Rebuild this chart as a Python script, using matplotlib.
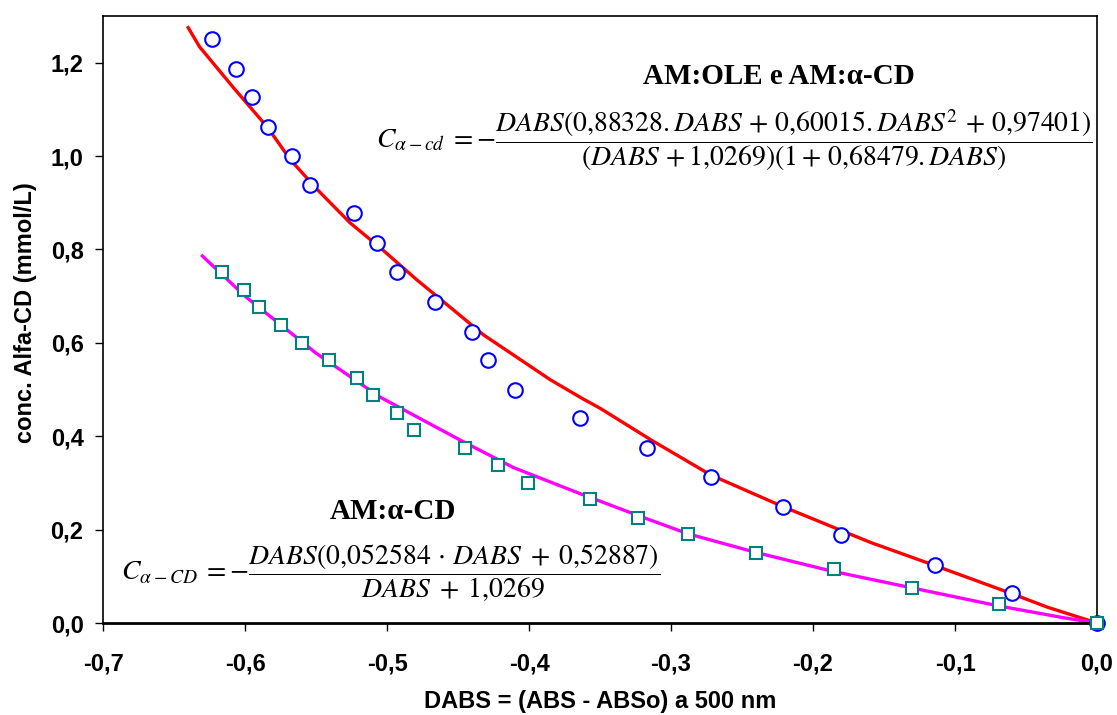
import numpy as np
import matplotlib
matplotlib.use('Agg')
import matplotlib.pyplot as plt
from matplotlib.ticker import FuncFormatter

plt.rcParams['font.family'] = 'Liberation Sans'
plt.rcParams['mathtext.fontset'] = 'stix'

# AM:OLE e AM:alfa-CD (circles) and fitted curve (red)
dabs_ole = [-0.623, -0.606, -0.595, -0.584, -0.567, -0.554, -0.523, -0.507, -0.493, -0.466,
            -0.440, -0.429, -0.410, -0.364, -0.317, -0.272, -0.221, -0.180, -0.114, -0.060, 0.0]
conc_ole = [1.251, 1.187, 1.127, 1.063, 1.001, 0.938, 0.879, 0.814, 0.752, 0.688,
            0.623, 0.564, 0.499, 0.439, 0.375, 0.313, 0.248, 0.189, 0.124, 0.064, 0.0]

fit_ole_x = [-0.640, -0.632, -0.608, -0.584, -0.568, -0.549, -0.526, -0.503, -0.479, -0.455,
             -0.432, -0.408, -0.385, -0.362, -0.350, -0.314, -0.272, -0.221, -0.176, -0.159,
             -0.115, -0.061, -0.035, 0.0]
fit_ole_y = [1.275, 1.234, 1.146, 1.061, 0.992, 0.928, 0.857, 0.799, 0.735, 0.675,
             0.617, 0.568, 0.521, 0.480, 0.460, 0.392, 0.317, 0.249, 0.193, 0.172,
             0.124, 0.064, 0.034, 0.0]

# AM:alfa-CD (squares) and fitted curve (magenta)
dabs_cd = [-0.616, -0.601, -0.590, -0.575, -0.560, -0.541, -0.521, -0.510, -0.493, -0.481,
           -0.445, -0.422, -0.401, -0.357, -0.323, -0.288, -0.240, -0.185, -0.130, -0.069, 0.0]
conc_cd = [0.752, 0.714, 0.677, 0.639, 0.600, 0.564, 0.525, 0.488, 0.450, 0.414,
           0.375, 0.338, 0.300, 0.266, 0.225, 0.191, 0.150, 0.116, 0.075, 0.041, 0.0]

fit_cd_x = [-0.630, -0.600, -0.550, -0.505, -0.448, -0.411, -0.364, -0.323, -0.288,
            -0.240, -0.188, -0.130, -0.070, -0.023, 0.0]
fit_cd_y = [0.786, 0.700, 0.578, 0.484, 0.391, 0.333, 0.277, 0.230, 0.191,
            0.151, 0.112, 0.075, 0.037, 0.011, 0.0]

xticks = [-0.7, -0.6, -0.5, -0.4, -0.3, -0.2, -0.1, 0.0]
yticks = [0.0, 0.2, 0.4, 0.6, 0.8, 1.0, 1.2]


def comma(v, pos=None):
    if abs(v) < 1e-9:
        v = 0.0
    return f'{v:.1f}'.replace('.', ',')


fig = plt.figure(figsize=(11.17, 7.15), dpi=100)
ax = fig.add_axes([103/1117, 1 - 623/715, 994/1117, 607/715])

ax.plot(fit_ole_x, fit_ole_y, color='#FF0000', lw=2.4, zorder=2)
ax.plot(fit_cd_x, fit_cd_y, color='#FF00FF', lw=2.4, zorder=2)
ax.plot(dabs_ole, conc_ole, 'o', ms=10.5, mfc='white', mec='#0000FF', mew=1.5, zorder=4, clip_on=False)
ax.plot(dabs_cd, conc_cd, 's', ms=8.5, mfc='white', mec='#008080', mew=1.5, zorder=5, clip_on=False)

ax.set_xlim(-0.7, 0.0)
ax.set_ylim(0.0, 1.3)
ax.set_xticks(xticks)
ax.set_yticks(yticks)
ax.xaxis.set_major_formatter(FuncFormatter(comma))
ax.yaxis.set_major_formatter(FuncFormatter(comma))
ax.tick_params(axis='x', direction='out', length=6, width=1, pad=15, labelsize=17)
ax.tick_params(axis='y', direction='out', length=6, width=1, pad=8, labelsize=17)
for lab in ax.get_xticklabels() + ax.get_yticklabels():
    lab.set_fontweight('bold')

for side in ['left', 'top', 'right']:
    ax.spines[side].set_linewidth(1.2)
ax.spines['bottom'].set_linewidth(2)

ax.set_xlabel('DABS = (ABS - ABSo) a 500 nm', fontsize=17, fontweight='bold')
ax.xaxis.set_label_coords(0.5, -0.11)
ax.set_ylabel('conc. Alfa-CD (mmol/L)', fontsize=17, fontweight='bold')
ax.yaxis.set_label_coords(-0.066, 0.512)

# equations
ax.text(0.68, 0.90, 'AM:OLE e AM:α-CD', transform=ax.transAxes, ha='center', va='center',
        fontsize=21, fontweight='bold', family='Liberation Serif')
ax.text(0.996, 0.795,
        r'$C_{\alpha-cd}\;=-\dfrac{DABS(0{,}88328{.}DABS\,+\,0{,}60015{.}DABS^{2}\,+\,0{,}97401)}'
        r'{(DABS\,+1{,}0269)(1+\,0{,}68479{.}DABS)}$',
        transform=ax.transAxes, ha='right', va='center', fontsize=20)

ax.text(0.292, 0.183, 'AM:α-CD', transform=ax.transAxes, ha='center', va='center',
        fontsize=21, fontweight='bold', family='Liberation Serif')
ax.text(0.018, 0.082,
        r'$C_{\alpha-CD}\;=-\dfrac{DABS(0{,}052584\,\cdot\,DABS\;+\;0{,}52887)}{DABS\;+\;1{,}0269}$',
        transform=ax.transAxes, ha='left', va='center', fontsize=20)

fig.savefig('out.png', dpi=100)
